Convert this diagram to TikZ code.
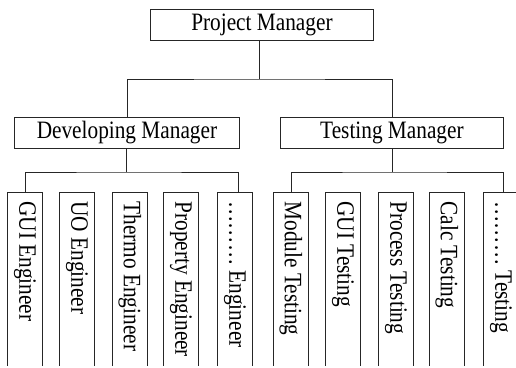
\documentclass[tikz,border=0pt]{standalone}
\usepackage{fontspec}
\usepackage{graphicx}
\setmainfont{Liberation Serif}
% tall, narrow lettering
\newcommand\narrowtext[1]{\scalebox{0.852}[1]{#1}}
\begin{document}
\begin{tikzpicture}[x=1pt, y=-1pt,
  font=\fontsize{25}{28}\selectfont,
  line width=0.9pt, draw=black!85,
  mgr/.style={draw=black!85, inner sep=0pt, anchor=north west, minimum height=31pt},
  leaf/.style={inner sep=0pt, anchor=north west, minimum width=35pt, minimum height=173pt},
  leaftext/.style={rotate=-90, anchor=west, inner sep=0pt}]
\useasboundingbox (0,0) rectangle (516,367);

% managers
\node[mgr, minimum width=223pt] (pm) at (150,9)   {\narrowtext{Project Manager}};
\node[mgr, minimum width=225pt] (dm) at (14,117)  {\narrowtext{Developing Manager}};
\node[mgr, minimum width=223pt] (tm) at (280,117) {\narrowtext{Testing Manager}};

% staff columns, open at the bottom
\foreach \n/\x/\t in {d1/7/GUI Engineer, d2/59/UO Engineer, d3/112/Thermo Engineer,
                      d4/163/Property Engineer, d5/217/……… Engineer,
                      t1/273/Module Testing, t2/325/GUI Testing, t3/378/Process Testing,
                      t4/429/Calc Testing, t5/483/……… Testing} {
  \node[leaf] (\n) at (\x,192) {};
  \draw (\n.south west) -- (\n.north west) -- (\n.north east) -- (\n.south east);
  \node[leaftext] (\n-label) at ([yshift=-9pt]\n.north) {\narrowtext{\t}};
}

% connectors
\coordinate (top) at (259,79);
\draw (top |- pm.south) -- (top);
\draw (dm.north) |- (top) -| (tm.north);

\coordinate (dj) at (126,172);
\coordinate (tj) at (392,172);
\draw (dj |- dm.south) -- (dj);
\draw (tj |- tm.south) -- (tj);
\draw (d1.north) |- (dj) -| ([xshift=3pt]d5.north);
\draw (t1.north) |- (tj) -| ([xshift=2pt]t5.north);
\end{tikzpicture}
\end{document}
